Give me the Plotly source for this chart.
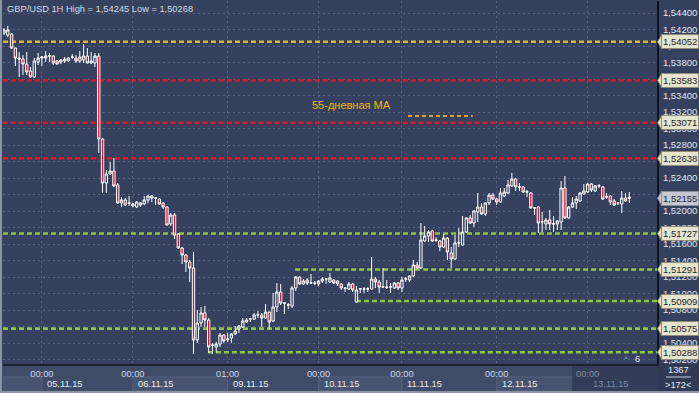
import plotly.graph_objects as go

# ---------------- data ----------------
title_text = "GBP/USD 1H High = 1,54245 Low = 1,50268"

opens = [
1.54158,1.54133,1.54146,1.53976,1.53855,1.53843,1.53782,1.53698,1.53625,1.53807,
1.53855,1.53855,1.53879,1.53879,1.53819,1.53807,1.53819,1.53819,1.53867,1.53855,
1.53819,1.53831,1.53879,1.53795,1.53795,1.53879,1.52873,1.52340,1.52449,1.52485,
1.52316,1.52098,1.52134,1.52098,1.52061,1.52049,1.52073,1.52086,1.52134,1.52158,
1.52158,1.52146,1.52098,1.52049,1.51843,1.51952,1.51722,1.51552,1.51467,1.51382,
1.51310,1.50437,1.50643,1.50764,1.50679,1.50376,1.50352,1.50388,1.50497,1.50437,
1.50461,1.50510,1.50570,1.50594,1.50655,1.50691,1.50691,1.50740,1.50740,1.50703,
1.50776,1.50667,1.50837,1.51019,1.50885,1.50861,1.50849,1.51067,1.51201,1.51116,
1.51164,1.51128,1.51128,1.51116,1.51152,1.51176,1.51140,1.51164,1.51152,1.51116,
1.51067,1.51055,1.51116,1.50897,1.51055,1.51055,1.51055,1.51055,1.51176,1.51140,
1.51079,1.51079,1.51079,1.51067,1.51128,1.51067,1.51176,1.51164,1.51213,1.51346,
1.51310,1.51637,1.51697,1.51758,1.51649,1.51637,1.51564,1.51673,1.51492,1.51419,
1.51613,1.51588,1.51746,1.51916,1.51855,1.51989,1.52049,1.51964,1.52098,1.52194,
1.52146,1.52110,1.52182,1.52219,1.52304,1.52388,1.52292,1.52292,1.52231,1.52219,
1.52037,1.52049,1.51867,1.51843,1.51891,1.51843,1.51843,1.51867,1.52279,1.51916,
1.52049,1.52098,1.52122,1.52207,1.52231,1.52328,1.52243,1.52304,1.52292,1.52170,
1.52182,1.52122,1.52098,1.52086,1.52158,1.52170]

highs = [
1.54218,1.54245,1.54158,1.53980,1.53928,1.53891,1.53928,1.53746,1.53855,1.53916,
1.53879,1.53940,1.53916,1.53891,1.53831,1.53843,1.53867,1.53867,1.53903,1.53891,
1.53940,1.54025,1.53976,1.53928,1.53916,1.53916,1.52885,1.52497,1.52595,1.52643,
1.52340,1.52170,1.52158,1.52182,1.52098,1.52122,1.52110,1.52182,1.52194,1.52194,
1.52170,1.52158,1.52103,1.52055,1.51976,1.51976,1.51734,1.51564,1.51475,1.51407,
1.51504,1.50800,1.50837,1.50849,1.50703,1.50401,1.50413,1.50522,1.50510,1.50522,
1.50522,1.50606,1.50618,1.50703,1.50703,1.50703,1.50764,1.50788,1.50764,1.50873,
1.50780,1.51007,1.51128,1.51116,1.50897,1.50885,1.51091,1.51213,1.51205,1.51176,
1.51188,1.51237,1.51152,1.51164,1.51201,1.51188,1.51249,1.51176,1.51158,1.51128,
1.51070,1.51140,1.51128,1.51091,1.51067,1.51079,1.51079,1.51443,1.51201,1.51164,
1.51310,1.51164,1.51128,1.51140,1.51140,1.51201,1.51201,1.51225,1.51407,1.51382,
1.51855,1.51819,1.51770,1.51770,1.51685,1.51649,1.51722,1.51685,1.51564,1.51709,
1.51794,1.51940,1.51922,1.51952,1.52013,1.52219,1.52098,1.52104,1.52219,1.52219,
1.52158,1.52279,1.52279,1.52376,1.52461,1.52400,1.52340,1.52304,1.52255,1.52231,
1.52049,1.52055,1.51989,1.51916,1.52013,1.51940,1.51891,1.52364,1.52425,1.52061,
1.52170,1.52182,1.52231,1.52328,1.52340,1.52340,1.52316,1.52328,1.52304,1.52219,
1.52194,1.52146,1.52110,1.52243,1.52219,1.52231]

lows = [
1.54133,1.54109,1.53964,1.53758,1.53625,1.53649,1.53649,1.53613,1.53613,1.53770,
1.53758,1.53807,1.53807,1.53770,1.53775,1.53782,1.53795,1.53807,1.53843,1.53795,
1.53795,1.53795,1.53790,1.53782,1.53746,1.52704,1.52219,1.52219,1.52437,1.52292,
1.52086,1.52049,1.52061,1.52061,1.52049,1.52040,1.52049,1.52073,1.52098,1.52110,
1.52073,1.52073,1.52025,1.51825,1.51819,1.51661,1.51540,1.51358,1.51261,1.51140,
1.50268,1.50401,1.50594,1.50594,1.50279,1.50270,1.50285,1.50352,1.50401,1.50413,
1.50401,1.50497,1.50522,1.50582,1.50643,1.50655,1.50679,1.50703,1.50594,1.50691,
1.50570,1.50655,1.50776,1.50861,1.50752,1.50813,1.50825,1.51031,1.51104,1.51104,
1.51104,1.51116,1.51104,1.51091,1.51128,1.51116,1.51128,1.51116,1.51091,1.51043,
1.51019,1.51043,1.51019,1.50890,1.51007,1.51007,1.51019,1.51043,1.51067,1.51007,
1.51067,1.51055,1.51007,1.51055,1.51043,1.51019,1.51140,1.51140,1.51201,1.51298,
1.51298,1.51625,1.51625,1.51625,1.51625,1.51516,1.51552,1.51407,1.51310,1.51407,
1.51564,1.51576,1.51734,1.51843,1.51807,1.51867,1.51952,1.51940,1.52073,1.52134,
1.52073,1.52098,1.52170,1.52207,1.52292,1.52243,1.52243,1.52219,1.52170,1.52030,
1.51952,1.51734,1.51746,1.51770,1.51770,1.51746,1.51770,1.51770,1.51903,1.51903,
1.52037,1.52025,1.52110,1.52194,1.52219,1.52231,1.52231,1.52279,1.52134,1.52146,
1.52073,1.52061,1.52073,1.51976,1.52110,1.52098]

closes = [
1.54194,1.54194,1.53976,1.53855,1.53843,1.53782,1.53685,1.53625,1.53819,1.53855,
1.53867,1.53879,1.53881,1.53795,1.53782,1.53831,1.53843,1.53855,1.53865,1.53819,
1.53867,1.53879,1.53795,1.53819,1.53879,1.52873,1.52340,1.52449,1.52485,1.52304,
1.52098,1.52134,1.52073,1.52096,1.52086,1.52110,1.52098,1.52134,1.52182,1.52182,
1.52156,1.52086,1.52049,1.51831,1.51952,1.51709,1.51552,1.51467,1.51382,1.51310,
1.50437,1.50643,1.50764,1.50679,1.50352,1.50374,1.50388,1.50497,1.50425,1.50449,
1.50510,1.50546,1.50606,1.50667,1.50679,1.50693,1.50740,1.50742,1.50703,1.50776,
1.50655,1.50837,1.51019,1.50885,1.50883,1.50863,1.51067,1.51201,1.51116,1.51152,
1.51128,1.51130,1.51126,1.51152,1.51176,1.51178,1.51188,1.51128,1.51116,1.51067,
1.51065,1.51116,1.51043,1.51043,1.51057,1.51053,1.51057,1.51176,1.51140,1.51079,
1.51081,1.51077,1.51081,1.51128,1.51067,1.51164,1.51178,1.51213,1.51346,1.51310,
1.51649,1.51697,1.51746,1.51637,1.51647,1.51564,1.51673,1.51504,1.51419,1.51613,
1.51615,1.51746,1.51916,1.51855,1.52001,1.52049,1.51964,1.52098,1.52194,1.52146,
1.52110,1.52219,1.52231,1.52316,1.52388,1.52292,1.52290,1.52231,1.52233,1.52037,
1.52039,1.51855,1.51869,1.51891,1.51843,1.51845,1.51879,1.52279,1.51916,1.52049,
1.52098,1.52146,1.52219,1.52243,1.52328,1.52255,1.52304,1.52306,1.52146,1.52172,
1.52110,1.52073,1.52100,1.52158,1.52122,1.52155]

bars = list(range(len(closes)))

tick_bars = [10, 34, 59, 83, 105, 130, 154]
tick_times = ["00:00", "00:00", "01:00", "00:00", "00:00", "00:00", "00:00"]
tick_dates = ["05.11.15", "06.11.15", "09.11.15", "10.11.15", "11.11.15", "12.11.15", "13.11.15"]

price_ticks = [round(1.502 + 0.002 * k, 3) for k in range(22)]

level_prices = [1.54052, 1.53583, 1.53071, 1.52638, 1.51727, 1.51291, 1.50909, 1.50575, 1.50288]
level_kinds = ["yellow", "red", "red", "red", "green", "green", "green", "green", "green"]
level_starts = [None, None, None, None, None, 76.8, 92.9, None, 53.8]
current_price = 1.52155

ma_price = 1.53152
ma_from, ma_to = 106.6, 123.7
ma_label = "55-дневная МА"
ma_label_pos = (91.6, 1.53285)

bars_total = "1367"
bars_visible = ">172<"
bars_hidden = "6"

# ---------------- styling / geometry ----------------
W, H = 699, 393
ML, MR, MT, MB = 3, 42, 1, 29
PW, PH = W - ML - MR, H - MT - MB
XR = [-0.264, 172.3]
YR = [1.50146, 1.54546]
FONT = "Liberation Sans, Arial, sans-serif"
BG = "#35415F"
BAND = "#404B68"
level_colors = {"yellow": "#DDB526", "red": "#E4141C", "green": "#8DC63F"}

def px(x):
    return (x - ML) / PW

def py(y):
    return (H - MB - y) / PH

dy_tri = (YR[1] - YR[0]) / PH * 6.5

fig = go.Figure()
fig.add_trace(go.Candlestick(
    x=bars, open=opens, high=highs, low=lows, close=closes,
    increasing=dict(line=dict(color="#FFFFFF", width=1), fillcolor=BG),
    decreasing=dict(line=dict(color="#FFFFFF", width=1), fillcolor="#E8102F"),
    whiskerwidth=0, hoverinfo="skip", showlegend=False))

shapes = []
annos = []

# bottom band and boxes
shapes.append(dict(type="rect", xref="paper", yref="paper", x0=px(0), x1=px(657),
                   y0=py(393), y1=py(364), fillcolor=BAND, line=dict(width=0), layer="below"))
alt_boxes = [(XR[0], tick_bars[0]), (tick_bars[1], tick_bars[2]),
             (tick_bars[3], tick_bars[4]), (tick_bars[5], tick_bars[6])]
for a, b in alt_boxes:
    shapes.append(dict(type="rect", xref="x", yref="paper", x0=a, x1=b,
                       y0=py(391), y1=py(377), fillcolor="#47536F",
                       line=dict(color="#56627D", width=1), layer="below"))
shapes.append(dict(type="rect", xref="x", yref="paper", x0=149.9, x1=XR[1],
                   y0=py(391), y1=py(365), fillcolor="#333D58",
                   line=dict(width=0), layer="below"))
# bottom-right counter box
shapes.append(dict(type="rect", xref="paper", yref="paper", x0=px(657), x1=px(699),
                   y0=py(393), y1=py(364), fillcolor="#303A55", line=dict(width=0), layer="below"))
shapes.append(dict(type="line", xref="paper", yref="paper", x0=px(666), x1=px(691),
                   y0=py(377), y1=py(377), line=dict(color="#C3CBDA", width=1)))
# outer light borders
shapes.append(dict(type="rect", xref="paper", yref="paper", x0=px(0), x1=px(699),
                   y0=py(393), y1=py(391), fillcolor="#8C95A8", line=dict(width=0), layer="below"))
shapes.append(dict(type="rect", xref="paper", yref="paper", x0=px(0), x1=px(2),
                   y0=py(393), y1=py(0), fillcolor="#8C95A8", line=dict(width=0), layer="below"))

# level lines
for p, k, s in zip(level_prices, level_kinds, level_starts):
    shapes.append(dict(type="line", xref="x", yref="y", x0=XR[0] if s is None else s, x1=XR[1],
                       y0=p, y1=p, line=dict(color=level_colors[k], width=2.6, dash="5px,3px"),
                       layer="between"))
shapes.append(dict(type="line", xref="x", yref="y", x0=ma_from, x1=ma_to, y0=ma_price, y1=ma_price,
                   line=dict(color="#E8A317", width=2, dash="4px,3px"), layer="between"))

# price callouts on the right axis
def callout(p, fill, border):
    shapes.append(dict(type="path", xref="paper", yref="y",
                       path=f"M {px(657.5)},{p} L {px(661.5)},{p + dy_tri} L {px(661.5)},{p - dy_tri} Z",
                       fillcolor=fill, line=dict(color=border, width=1)))
    annos.append(dict(xref="paper", yref="y", x=px(661), y=p, xanchor="left", yanchor="middle",
                      text=f"{p:.5f}".replace(".", ","), showarrow=False,
                      font=dict(family=FONT, size=9.5, color="#1B2336"),
                      bgcolor=fill, bordercolor=border, borderwidth=1, borderpad=1))

for p in level_prices:
    callout(p, "#E6E4CB", "#8E8C78")
callout(current_price, "#C3C8D2", "#8A909C")

# texts
annos.append(dict(xref="paper", yref="paper", x=px(5), y=py(9), xanchor="left", yanchor="middle",
                  text=title_text, showarrow=False, font=dict(family=FONT, size=9.3, color="#D6DCE7")))
annos.append(dict(xref="x", yref="y", x=ma_label_pos[0], y=ma_label_pos[1], xanchor="center",
                  yanchor="middle", text=ma_label, showarrow=False,
                  font=dict(family=FONT, size=11, color="#F5B400")))
for tb, td in zip(tick_bars, tick_dates):
    col = "#7E899F" if tb == tick_bars[-1] else "#E6EAF2"
    annos.append(dict(xref="x", yref="paper", x=tb, xshift=3, y=py(384), xanchor="left",
                      yanchor="middle", text=td, showarrow=False,
                      font=dict(family=FONT, size=9.3, color=col)))
annos.append(dict(xref="paper", yref="paper", x=px(678.5), y=py(370), xanchor="center", yanchor="middle",
                  text=bars_total, showarrow=False, font=dict(family=FONT, size=9.3, color="#E6EAF2")))
annos.append(dict(xref="paper", yref="paper", x=px(678.5), y=py(384.5), xanchor="center", yanchor="middle",
                  text=bars_visible, showarrow=False, font=dict(family=FONT, size=9.3, color="#E6EAF2")))
annos.append(dict(xref="paper", yref="paper", x=px(626), y=py(357), xanchor="center", yanchor="middle",
                  text="▲", showarrow=False, font=dict(family=FONT, size=6, color="#6F7A92")))
annos.append(dict(xref="paper", yref="paper", x=px(637), y=py(359), xanchor="center", yanchor="middle",
                  text=bars_hidden, showarrow=False, font=dict(family=FONT, size=9.3, color="#E6EAF2")))

tick_text = [t if b != tick_bars[-1] else f"<span style='color:#7E899F'>{t}</span>"
             for t, b in zip(tick_times, tick_bars)]

fig.update_layout(
    width=W, height=H, margin=dict(l=ML, r=MR, t=MT, b=MB, pad=0),
    paper_bgcolor=BG, plot_bgcolor=BG, showlegend=False, boxgap=0.12,
    separators=", ", font=dict(family=FONT, size=9.3, color="#E2E6EE"),
    shapes=shapes, annotations=annos, hovermode=False,
    xaxis=dict(range=XR, rangeslider=dict(visible=False), tickmode="array",
               tickvals=tick_bars, ticktext=tick_text, showgrid=True,
               gridcolor="#56627F", griddash="2px,3px", gridwidth=1, zeroline=False,
               showline=True, linecolor="#1B2132", linewidth=2, ticks="",
               tickfont=dict(family=FONT, size=9.3, color="#CAD6EA"), fixedrange=True),
    yaxis=dict(range=YR, side="right", tickmode="array", tickvals=price_ticks,
               tickformat=".5f", showgrid=True, gridcolor="#56627F", griddash="2px,3px",
               gridwidth=1, zeroline=False, showline=True, linecolor="#0F1420", linewidth=2,
               ticks="", ticklabelstandoff=2,
               tickfont=dict(family=FONT, size=9.5, color="#E2E6EE"), fixedrange=True),
)

fig.write_html("out.html")
